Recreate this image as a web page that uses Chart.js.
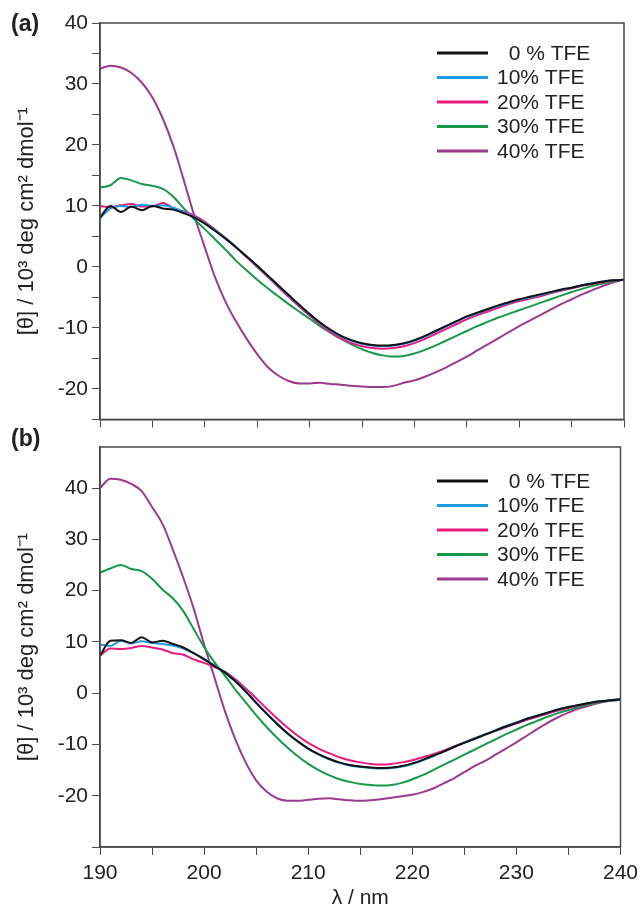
<!DOCTYPE html>
<html>
<head>
<meta charset="utf-8">
<script src="https://cdn.jsdelivr.net/npm/chart.js@4.4.1/dist/chart.umd.min.js"></script>
<style>
  html, body { margin: 0; padding: 0; background: #fff; }
  #wrap { position: relative; width: 644px; height: 912px; }
  .panel { position: absolute; left: 0; width: 644px; }
  #panelA { top: 0; height: 436px; }
  #panelB { top: 425px; height: 487px; }
</style>
</head>
<body>
<div id="wrap">
  <div class="panel" id="panelA"><canvas id="chartA" width="644" height="436"></canvas></div>
  <div class="panel" id="panelB"><canvas id="chartB" width="644" height="487"></canvas></div>
</div>
<script>
// wavelength (nm)
const wavelength = [190, 191, 192, 193, 194, 195, 196, 197, 198, 199,
  200, 201, 202, 203, 204, 205, 206, 207, 208, 209,
  210, 211, 212, 213, 214, 215, 216, 217, 218, 219,
  220, 221, 222, 223, 224, 225, 226, 227, 228, 229,
  230, 231, 232, 233, 234, 235, 236, 237, 238, 239, 240];

const seriesLabels = ['  0 % TFE', '10% TFE', '20% TFE', '30% TFE', '40% TFE'];
const seriesColors = ['#111111', '#1c9ce3', '#e8197f', '#17984a', '#9b3b8b'];

// panel (a), [theta] / 10^3 deg cm2 dmol-1
const a0 = [8.1, 10.0, 9.0, 9.9, 9.3, 10.0, 9.6, 9.4, 8.8, 8.1,
  7.1, 5.9, 4.6, 3.2, 1.7, 0.2, -1.4, -3.0, -4.6, -6.2,
  -7.7, -9.1, -10.3, -11.3, -12.0, -12.5, -12.8, -12.9, -12.8, -12.5,
  -12.0, -11.3, -10.5, -9.7, -8.9, -8.1, -7.5, -6.9, -6.3, -5.8,
  -5.3, -4.9, -4.5, -4.1, -3.7, -3.4, -3.0, -2.7, -2.4, -2.2, -2.1];
const a10 = [8.0, 9.6, 10.0, 9.8, 10.2, 10.0, 10.1, 9.7, 9.0, 8.2,
  7.2, 6.0, 4.7, 3.2, 1.7, 0.1, -1.5, -3.1, -4.7, -6.3,
  -7.8, -9.2, -10.4, -11.4, -12.1, -12.6, -12.9, -13.0, -12.9, -12.6,
  -12.1, -11.4, -10.6, -9.8, -9.0, -8.2, -7.6, -7.0, -6.4, -5.9,
  -5.4, -5.0, -4.6, -4.2, -3.8, -3.4, -3.0, -2.7, -2.4, -2.2, -2.1];
const a20 = [10.0, 9.8, 10.1, 10.3, 9.9, 9.9, 10.5, 9.6, 9.1, 8.4,
  7.4, 6.1, 4.7, 3.2, 1.6, 0.0, -1.6, -3.3, -4.9, -6.5,
  -8.0, -9.4, -10.7, -11.7, -12.5, -13.0, -13.3, -13.4, -13.3, -13.0,
  -12.5, -11.8, -11.0, -10.2, -9.4, -8.6, -7.9, -7.3, -6.7, -6.1,
  -5.6, -5.2, -4.8, -4.3, -3.9, -3.5, -3.1, -2.8, -2.5, -2.2, -2.1];
const a30 = [13.0, 13.4, 14.6, 14.2, 13.6, 13.3, 12.8, 11.5, 9.6, 7.8,
  6.2, 4.5, 2.8, 1.0, -0.6, -2.1, -3.5, -4.8, -6.1, -7.3,
  -8.5, -9.7, -10.8, -11.8, -12.7, -13.5, -14.1, -14.5, -14.7, -14.6,
  -14.2, -13.6, -12.9, -12.1, -11.3, -10.5, -9.7, -9.0, -8.3, -7.7,
  -7.1, -6.5, -5.9, -5.3, -4.7, -4.1, -3.6, -3.1, -2.7, -2.3, -2.1];
const a40 = [32.5, 33.0, 32.7, 31.8, 30.2, 27.8, 24.3, 19.8, 14.2, 8.4,
  3.2, -1.8, -5.8, -9.0, -11.8, -14.3, -16.4, -17.8, -18.7, -19.1,
  -19.1, -19.0, -19.2, -19.3, -19.5, -19.6, -19.7, -19.7, -19.5, -19.0,
  -18.6, -18.0, -17.3, -16.5, -15.6, -14.7, -13.7, -12.7, -11.7, -10.7,
  -9.7, -8.8, -7.9, -7.0, -6.1, -5.3, -4.5, -3.8, -3.1, -2.5, -2.1];

// panel (b)
const b0 = [7.3, 10.2, 10.3, 9.8, 10.9, 9.9, 10.2, 9.6, 8.9, 7.8,
  6.6, 5.3, 4.0, 2.3, 0.3, -1.9, -4.0, -6.0, -7.8, -9.4,
  -10.8, -11.9, -12.8, -13.5, -14.0, -14.3, -14.5, -14.6, -14.5, -14.2,
  -13.7, -13.0, -12.2, -11.4, -10.5, -9.7, -8.9, -8.1, -7.3, -6.5,
  -5.8, -5.0, -4.4, -3.8, -3.2, -2.7, -2.3, -1.9, -1.6, -1.4, -1.2];
const b10 = [9.5, 9.2, 10.2, 9.7, 10.1, 9.8, 9.6, 9.3, 8.7, 7.8,
  6.7, 5.4, 4.1, 2.4, 0.4, -1.8, -3.9, -5.9, -7.8, -9.4,
  -10.8, -12.0, -12.9, -13.6, -14.1, -14.4, -14.6, -14.7, -14.6, -14.3,
  -13.8, -13.1, -12.3, -11.4, -10.5, -9.6, -8.8, -8.0, -7.2, -6.4,
  -5.7, -5.0, -4.4, -3.8, -3.2, -2.7, -2.3, -1.9, -1.6, -1.4, -1.2];
const b20 = [7.3, 8.7, 8.6, 8.8, 9.2, 8.9, 8.5, 7.8, 7.5, 6.6,
  5.9, 5.1, 4.2, 2.7, 0.9, -1.0, -3.0, -4.9, -6.7, -8.3,
  -9.7, -10.8, -11.7, -12.5, -13.1, -13.5, -13.8, -13.9, -13.8, -13.5,
  -13.1, -12.5, -11.9, -11.2, -10.4, -9.6, -8.9, -8.1, -7.3, -6.6,
  -5.9, -5.2, -4.6, -4.0, -3.4, -2.9, -2.4, -2.0, -1.7, -1.4, -1.2];
const b30 = [23.5, 24.3, 25.0, 24.2, 23.8, 22.3, 20.2, 18.5, 16.0, 12.5,
  9.0, 6.0, 3.4, 0.7, -1.8, -4.3, -6.6, -8.7, -10.6, -12.3,
  -13.8, -15.0, -16.0, -16.8, -17.3, -17.7, -17.9, -18.0, -17.9, -17.5,
  -16.8, -16.0, -15.0, -14.0, -13.0, -12.0, -11.0, -10.0, -9.0, -8.0,
  -7.1, -6.2, -5.4, -4.6, -3.9, -3.3, -2.7, -2.2, -1.8, -1.5, -1.3];
const b40 = [40.0, 41.8, 41.6, 40.8, 39.4, 36.3, 33.0, 28.0, 22.5, 16.5,
  9.5, 3.0, -3.5, -9.0, -13.5, -17.0, -19.2, -20.5, -21.0, -21.0,
  -20.8, -20.6, -20.5, -20.7, -20.9, -21.0, -20.9, -20.7, -20.4, -20.1,
  -19.8, -19.3, -18.6, -17.6, -16.6, -15.4, -14.2, -13.2, -12.0, -10.8,
  -9.6, -8.3, -7.0, -5.8, -4.7, -3.8, -3.0, -2.4, -1.9, -1.5, -1.3];

const FONT = "'Liberation Sans', Arial, sans-serif";
const AXIS = '#4a4a4a';
const yTitle = '[\u03b8] / 10\u00b3 deg cm\u00b2 dmol\u207b\u00b9';

function makeDatasets(list) {
  return list.map((vals, i) => ({
    label: seriesLabels[i],
    data: wavelength.map((w, k) => ({ x: w, y: vals[k] })),
    borderColor: seriesColors[i],
    borderWidth: 2,
    pointRadius: 0,
    cubicInterpolationMode: 'monotone',
    fill: false
  }));
}

// frame, inset legend and panel letter
const decor = {
  id: 'decor',
  afterDraw(chart, args, opts) {
    const { ctx, chartArea: a } = chart;
    ctx.save();
    ctx.strokeStyle = AXIS;
    ctx.lineWidth = 1.5;
    ctx.strokeRect(a.left, a.top, a.right - a.left, a.bottom - a.top);

    ctx.font = '21px ' + FONT;
    ctx.textBaseline = 'middle';
    ctx.textAlign = 'left';
    chart.data.datasets.forEach((ds, i) => {
      const y = opts.legendTop + i * 24.5;
      ctx.strokeStyle = ds.borderColor;
      ctx.lineWidth = 3;
      ctx.beginPath();
      ctx.moveTo(437, y);
      ctx.lineTo(488, y);
      ctx.stroke();
      ctx.fillStyle = '#222';
      ctx.fillText(ds.label, 497, y + 1);
    });

    ctx.font = 'bold 23px ' + FONT;
    ctx.fillStyle = '#222';
    ctx.fillText(opts.letter, 11, opts.letterY);
    ctx.restore();
  }
};

function yScale(min, max) {
  return {
    min: min, max: max,
    ticks: {
      stepSize: 5,
      color: '#222',
      font: { family: FONT, size: 21 },
      padding: 4,
      callback: v => (v % 10 === 0 && v > -30 ? v : '')
    },
    grid: {
      drawOnChartArea: false,
      tickLength: 8,
      tickColor: c => (c.tick && c.tick.value % 5 === 0 ? AXIS : 'rgba(0,0,0,0)')
    },
    border: { color: AXIS, width: 1.5 },
    title: {
      display: true,
      text: yTitle,
      color: '#222',
      font: { family: FONT, size: 22 },
      padding: { top: 14, bottom: 0 }
    },
    afterFit: s => { s.width = 100; }
  };
}

function xScale(showLabels, height) {
  return {
    type: 'linear',
    min: 190, max: 240,
    ticks: {
      display: showLabels,
      stepSize: 5,
      autoSkip: false,
      maxRotation: 0,
      color: '#222',
      font: { family: FONT, size: 21 },
      padding: 6,
      callback: v => (v % 10 === 0 ? v : '')
    },
    grid: { drawOnChartArea: false, tickLength: 8, tickColor: AXIS },
    border: { color: AXIS, width: 1.5 },
    title: {
      display: showLabels,
      text: '\u03bb / nm',
      color: '#222',
      font: { family: FONT, size: 21 },
      padding: { top: 0, bottom: 1 }
    },
    afterFit: s => { s.height = height; }
  };
}

function makeChart(id, list, yMin, yMax, pad, xHeight, showX, letter, letterY, legendTop) {
  return new Chart(document.getElementById(id), {
    type: 'line',
    data: { datasets: makeDatasets(list) },
    options: {
      responsive: false,
      animation: false,
      devicePixelRatio: 1,
      layout: { padding: pad },
      plugins: {
        legend: { display: false },
        tooltip: { enabled: false },
        decor: { letter: letter, letterY: letterY, legendTop: legendTop }
      },
      scales: {
        x: xScale(showX, xHeight),
        y: yScale(yMin, yMax)
      }
    },
    plugins: [decor]
  });
}

makeChart('chartA', [a0, a10, a20, a30, a40], -25, 40,
  { left: 0, right: 20, top: 23, bottom: 0 }, 12, false, '(a)', 25, 53);
makeChart('chartB', [b0, b10, b20, b30, b40], -30, 48,
  { left: 0, right: 20, top: 22, bottom: 0 }, 65, true, '(b)', 15, 56);
</script>
</body>
</html>
